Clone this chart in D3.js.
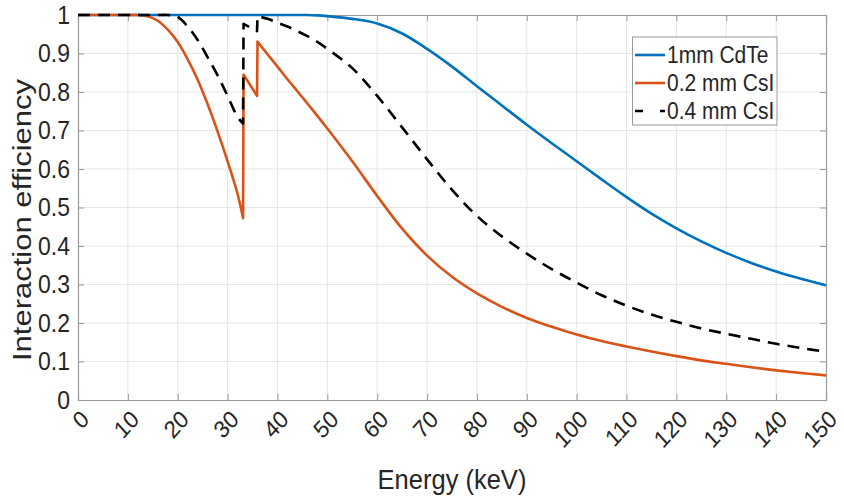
<!DOCTYPE html>
<html><head><meta charset="utf-8">
<script src="https://cdn.jsdelivr.net/npm/d3@7"></script>
<style>body{margin:0;background:#fff;} svg{display:block;}</style>
</head><body><svg id="chart" width="844" height="496"></svg>
<script>
const energy =   [0,5,10,12,14,16,18,20,22,24,26,28,30,32,33.1,33.2,35.9,36.0,38,40,42,44,46,48,50,55,60,65,70,75,80,85,90,95,100,105,110,115,120,125,130,135,140,145,150];
const cdte1mm =  [1,1,1,1,1,1,1,1,1,1,1,1,1,1,1,1,1,1,1,1,1,1,1,0.999,0.997,0.99,0.978,0.952,0.912,0.866,0.815,0.765,0.715,0.667,0.62,0.573,0.527,0.484,0.446,0.412,0.382,0.356,0.334,0.315,0.298];
const csi02mm =  [1,1,1,1,0.997,0.985,0.962,0.93,0.885,0.832,0.768,0.697,0.62,0.535,0.472,0.845,0.79,0.931,0.898,0.866,0.833,0.802,0.77,0.738,0.705,0.62,0.53,0.445,0.375,0.32,0.277,0.242,0.213,0.19,0.17,0.153,0.139,0.126,0.114,0.103,0.094,0.085,0.077,0.07,0.064];
const csi04mm =  [1,1,1,1,1,1,1,0.995,0.97,0.935,0.89,0.843,0.79,0.735,0.718,0.977,0.958,0.997,0.99,0.98,0.97,0.958,0.945,0.93,0.912,0.862,0.79,0.708,0.625,0.546,0.478,0.425,0.38,0.34,0.305,0.272,0.245,0.222,0.203,0.186,0.172,0.159,0.146,0.135,0.125];
const seriesNames = ["1mm CdTe","0.2 mm CsI","0.4 mm CsI"];
const xTicks = [0,10,20,30,40,50,60,70,80,90,100,110,120,130,140,150];
const yTicks = [0,0.1,0.2,0.3,0.4,0.5,0.6,0.7,0.8,0.9,1];
const yTickLabels = ["0","0.1","0.2","0.3","0.4","0.5","0.6","0.7","0.8","0.9","1"];
const xLabel = "Energy (keV)";
const yLabel = "Interaction efficiency";

const svg = d3.select("#chart");
const L = 78, R = 826, T = 15, B = 400;
const x = d3.scaleLinear().domain([0,150]).range([L,R]);
const y = d3.scaleLinear().domain([0,1]).range([B,T]);
const FONT = "'Liberation Sans', Arial, Helvetica, sans-serif";
const txtCol = "#262626", axCol = "#9a9a9a", gridCol = "#e6e6e6";

// grid
svg.append("g").selectAll("line").data(xTicks.slice(1,-1)).join("line")
  .attr("x1",d=>x(d)).attr("x2",d=>x(d)).attr("y1",T).attr("y2",B)
  .attr("stroke",gridCol).attr("stroke-width",1);
svg.append("g").selectAll("line").data(yTicks.slice(1,-1)).join("line")
  .attr("y1",d=>y(d)).attr("y2",d=>y(d)).attr("x1",L).attr("x2",R)
  .attr("stroke",gridCol).attr("stroke-width",1);

// axes with inner ticks
const gB = svg.append("g").attr("transform",`translate(0,${B})`)
  .call(d3.axisBottom(x).tickValues(xTicks).tickSize(-6).tickFormat(""));
const gTp = svg.append("g").attr("transform",`translate(0,${T})`)
  .call(d3.axisTop(x).tickValues(xTicks).tickSize(-6).tickFormat(""));
const gL = svg.append("g").attr("transform",`translate(${L},0)`)
  .call(d3.axisLeft(y).tickValues(yTicks).tickSize(-6).tickFormat(""));
const gR = svg.append("g").attr("transform",`translate(${R},0)`)
  .call(d3.axisRight(y).tickValues(yTicks).tickSize(-6).tickFormat(""));
[gB,gTp,gL,gR].forEach(g=>{
  g.selectAll("path.domain").attr("stroke",axCol).attr("stroke-width",1.2);
  g.selectAll(".tick line").attr("stroke",axCol).attr("stroke-width",1);
});

// tick labels
svg.append("g").selectAll("text").data(yTicks).join("text")
  .attr("x",70).attr("y",d=>y(d)).attr("text-anchor","end")
  .attr("dominant-baseline","central")
  .attr("font-family",FONT).attr("font-size",23).attr("fill",txtCol)
  .attr("transform",d=>`translate(0,${y(d)}) scale(1,1.1) translate(0,${-y(d)})`)
  .text((d,i)=>yTickLabels[i]);
svg.append("g").selectAll("text").data(xTicks).join("text")
  .attr("transform",d=>`translate(${x(d)+1},${B+8}) scale(1,1.1) rotate(-45)`)
  .attr("text-anchor","end").attr("dy","0.74em")
  .attr("font-family",FONT).attr("font-size",22).attr("fill",txtCol)
  .text(d=>String(d));

// axis labels
svg.append("text").attr("x",(L+R)/2).attr("y",489).attr("text-anchor","middle")
  .attr("font-family",FONT).attr("font-size",25.5).attr("fill",txtCol)
  .attr("transform",`translate(0,489) scale(1,1.1) translate(0,-489)`)
  .text(xLabel);
svg.append("text").attr("transform",`translate(31,220) rotate(-90)`)
  .attr("text-anchor","middle")
  .attr("font-family",FONT).attr("font-size",26.5).attr("fill",txtCol)
  .attr("textLength",282).attr("lengthAdjust","spacingAndGlyphs")
  .text(yLabel);

// lines (split at absorption edges, joined into one continuous path)
function buildPath(xs, ys){
  const segs=[]; let cur=[[x(xs[0]),y(ys[0])]];
  for(let i=1;i<xs.length;i++){
    const p=[x(xs[i]),y(ys[i])];
    if(xs[i]-xs[i-1]<0.5){ segs.push(cur); cur=[p]; } else cur.push(p);
  }
  segs.push(cur);
  const line=d3.line().curve(d3.curveCatmullRom.alpha(0.5));
  return segs.map((s,k)=>{const d=line(s); return k? "L"+d.slice(1):d;}).join("");
}
const series = [
  {name:seriesNames[0], vals:cdte1mm, color:"#0072BD", dash:null},
  {name:seriesNames[1], vals:csi02mm, color:"#D95319", dash:null},
  {name:seriesNames[2], vals:csi04mm, color:"#000000", dash:"12,8"}
];
series.forEach(s=>{
  svg.append("path").attr("d",buildPath(energy,s.vals)).attr("fill","none")
    .attr("stroke",s.color).attr("stroke-width",2.6)
    .attr("stroke-dasharray",s.dash).attr("stroke-linejoin","round");
});

// legend
const lg = svg.append("g");
lg.append("rect").attr("x",632.5).attr("y",37).attr("width",144.5).attr("height",88)
  .attr("fill","#fff").attr("stroke","#9a9a9a").attr("stroke-width",1);
const ly=[55,83,111];
series.forEach((s,i)=>{
  lg.append("line").attr("x1",635).attr("x2",665).attr("y1",ly[i]).attr("y2",ly[i])
    .attr("stroke",s.color).attr("stroke-width",2.6)
    .attr("stroke-dasharray",s.dash?"8,17":null);
  lg.append("text").attr("x",667).attr("y",ly[i]).attr("dominant-baseline","central")
    .attr("font-family",FONT).attr("font-size",21).attr("fill",txtCol)
    .attr("transform",`translate(0,${ly[i]}) scale(1,1.1) translate(0,${-ly[i]})`)
    .text(s.name);
});
</script>
</body></html>
